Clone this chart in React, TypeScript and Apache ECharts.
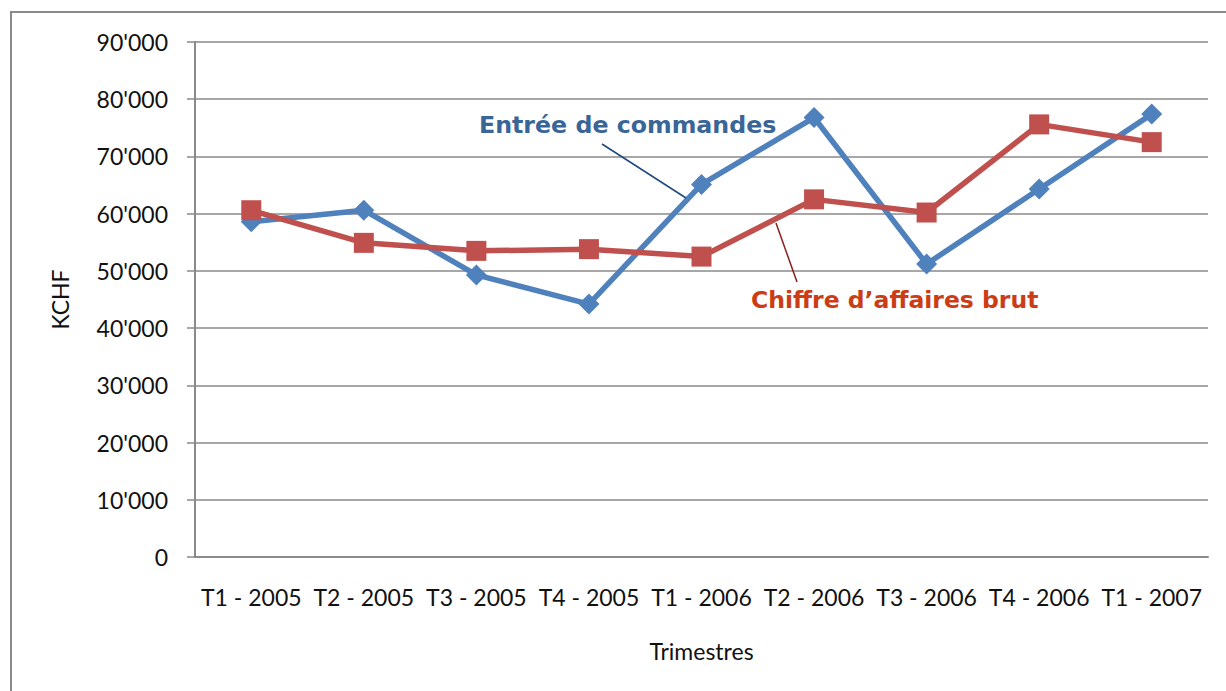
import React, { useEffect, useRef } from "react";
import * as echarts from "echarts";

const categories = [
  "T1 - 2005",
  "T2 - 2005",
  "T3 - 2005",
  "T4 - 2005",
  "T1 - 2006",
  "T2 - 2006",
  "T3 - 2006",
  "T4 - 2006",
  "T1 - 2007",
];
const entreeCommandes = [58600, 60600, 49300, 44200, 65100, 76800, 51200, 64300, 77400];
const chiffreAffaires = [60600, 54900, 53500, 53800, 52500, 62500, 60200, 75600, 72500];

const seriesNames = ["Entrée de commandes", "Chiffre d’affaires brut"];
const yMin = 0;
const yMax = 90000;
const yInterval = 10000;
const xTitle = "Trimestres";
const yTitle = "KCHF";

const fmtY = (v: number) => (v === 0 ? "0" : `${Math.round(v / 1000)}'000`);

export default function App() {
  const ref = useRef<HTMLDivElement>(null);
  useEffect(() => {
    document.body.style.margin = "0";
    if (!ref.current) return;
    const chart = echarts.init(ref.current, null, { renderer: "svg" });
    const axisGray = "#8a8a8a";
    const font = "Lato";
    chart.setOption({
      animation: false,
      backgroundColor: "#ffffff",
      grid: { left: 195, right: 18, top: 42, bottom: 134, containLabel: false },
      xAxis: {
        type: "category",
        data: categories,
        boundaryGap: true,
        axisLine: { show: true, lineStyle: { color: axisGray, width: 2 } },
        axisTick: { show: false },
        axisLabel: { color: "#111", fontFamily: font, fontSize: 23, margin: 28, interval: 0 },
        name: xTitle,
        nameLocation: "middle",
        nameGap: 82,
        nameTextStyle: { color: "#111", fontFamily: font, fontSize: 23 },
      },
      yAxis: {
        type: "value",
        min: yMin,
        max: yMax,
        interval: yInterval,
        axisLine: { show: true, lineStyle: { color: axisGray, width: 2 } },
        axisTick: { show: true, length: 8, lineStyle: { color: axisGray, width: 1.5 } },
        splitLine: { show: true, lineStyle: { color: axisGray, width: 1.5 } },
        axisLabel: { color: "#111", fontFamily: font, fontSize: 23, margin: 27, formatter: fmtY },
        name: yTitle,
        nameLocation: "middle",
        nameGap: 124,
        nameRotate: 90,
        nameTextStyle: { color: "#111", fontFamily: font, fontSize: 23 },
      },
      series: [
        {
          name: seriesNames[0],
          type: "line",
          data: entreeCommandes,
          symbol: "diamond",
          symbolSize: 21,
          lineStyle: { color: "#4F81BD", width: 5.5 },
          itemStyle: { color: "#4F81BD" },
          z: 2,
        },
        {
          name: seriesNames[1],
          type: "line",
          data: chiffreAffaires,
          symbol: "rect",
          symbolSize: 20,
          lineStyle: { color: "#C0504D", width: 5.5 },
          itemStyle: { color: "#C0504D" },
          z: 3,
        },
      ],
      graphic: [
        {
          type: "rect",
          shape: { x: 11, y: 12, width: 1300, height: 800 },
          style: { fill: "none", stroke: "#8a8a8a", lineWidth: 2 },
          silent: true,
        },
        {
          type: "line",
          shape: { x1: 602, y1: 144, x2: 686, y2: 198 },
          style: { stroke: "#1F497D", lineWidth: 1.5 },
          z: 10,
        },
        {
          type: "line",
          shape: { x1: 776, y1: 223, x2: 797, y2: 282 },
          style: { stroke: "#8B1F1F", lineWidth: 1.5 },
          z: 10,
        },
        {
          type: "text",
          x: 479,
          y: 125,
          style: {
            text: seriesNames[0],
            fill: "#3A6597",
            font: "bold 23.7px 'DejaVu Sans'",
            textAlign: "left",
            textVerticalAlign: "middle",
          },
          z: 10,
        },
        {
          type: "text",
          x: 751,
          y: 300,
          style: {
            text: seriesNames[1],
            fill: "#CC3D16",
            font: "bold 23.5px 'DejaVu Sans'",
            textAlign: "left",
            textVerticalAlign: "middle",
          },
          z: 10,
        },
      ],
    });
    return () => chart.dispose();
  }, []);
  return (
    <div
      ref={ref}
      style={{ position: "absolute", left: 0, top: 0, width: 1226, height: 691 }}
    />
  );
}
